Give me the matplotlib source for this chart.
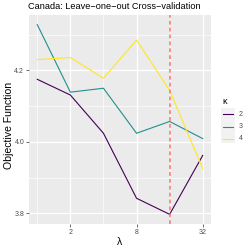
import matplotlib
matplotlib.use('Agg')
import matplotlib.pyplot as plt
from matplotlib.patches import Rectangle
from matplotlib.lines import Line2D
from matplotlib.ticker import FixedLocator, NullFormatter

plt.rcParams['font.family'] = ['Liberation Sans', 'DejaVu Sans']

# cross-validation results, one series per kappa
lam = [1, 2, 4, 8, 16, 32]
kappa_labels = ['2', '3', '4']
obj_k2 = [4.175, 4.131, 4.024, 3.842, 3.797, 3.962]
obj_k3 = [4.328, 4.139, 4.150, 4.024, 4.057, 4.009]
obj_k4 = [4.230, 4.236, 4.178, 4.285, 4.144, 3.925]
best_lam = 16
colors = ['#440154', '#21908C', '#FDE725']

W = 250.0
fig = plt.figure(figsize=(2.5, 2.5), dpi=100)
ax = fig.add_axes([29 / W, 1 - 224 / W, 182 / W, 209 / W])
ax.set_facecolor('#EBEBEB')

ax.set_xscale('log', base=2)
ax.set_xlim(2 ** -0.25, 2 ** 5.25)
ax.set_ylim(3.770, 4.355)

ax.xaxis.set_major_locator(FixedLocator([2, 8, 32]))
ax.xaxis.set_minor_locator(FixedLocator([1, 4, 16]))
ax.xaxis.set_minor_formatter(NullFormatter())
ax.set_xticklabels(['2', '8', '32'])
ax.yaxis.set_major_locator(FixedLocator([3.8, 4.0, 4.2]))
ax.yaxis.set_minor_locator(FixedLocator([3.9, 4.1, 4.3]))
ax.set_yticklabels(['3.8', '4.0', '4.2'])

ax.grid(True, which='major', color='white', lw=0.9)
ax.grid(True, which='minor', color='white', lw=0.45)
ax.set_axisbelow(True)
for s in ax.spines.values():
    s.set_visible(False)
ax.tick_params(which='major', length=2, width=0.5, color='#333333',
               labelsize=5, labelcolor='#4D4D4D', pad=1.5)
ax.tick_params(which='minor', length=0)

for vals, c in zip([obj_k2, obj_k3, obj_k4], colors):
    ax.plot(lam, vals, color=c, lw=0.8)

ax.axvline(best_lam, color='#F8766D', lw=1.1, ls=(0, (2.5, 2)))

ax.set_title('Canada: Leave\u2212one\u2212out Cross\u2212validation', fontsize=6.6,
             loc='left', pad=4, x=-0.005)
ax.set_xlabel('\u03bb', fontsize=7.5, labelpad=1)
ax.set_ylabel('Objective Function', fontsize=7.6, va='center')
ax.yaxis.set_label_coords(-19.5 / 182, 0.47)

# legend, drawn by hand in ggplot layout
fig.patches.append(Rectangle((221 / W, 1 - 143 / W), 14 / W, 35 / W,
                             transform=fig.transFigure, facecolor='#F2F2F2',
                             edgecolor='none', zorder=0))
fig.text(222 / W, 1 - 101 / W, '\u03ba', fontsize=6.5, ha='left', va='center')
for i, (c, lab) in enumerate(zip(colors, kappa_labels)):
    yy = 1 - (114 + 12.5 * i) / W
    fig.lines.append(Line2D([223 / W, 233 / W], [yy, yy], color=c, lw=0.8,
                            transform=fig.transFigure))
    fig.text(239 / W, yy, lab, fontsize=5, color='#4D4D4D', ha='left', va='center')

fig.savefig('out.png', dpi=100)
